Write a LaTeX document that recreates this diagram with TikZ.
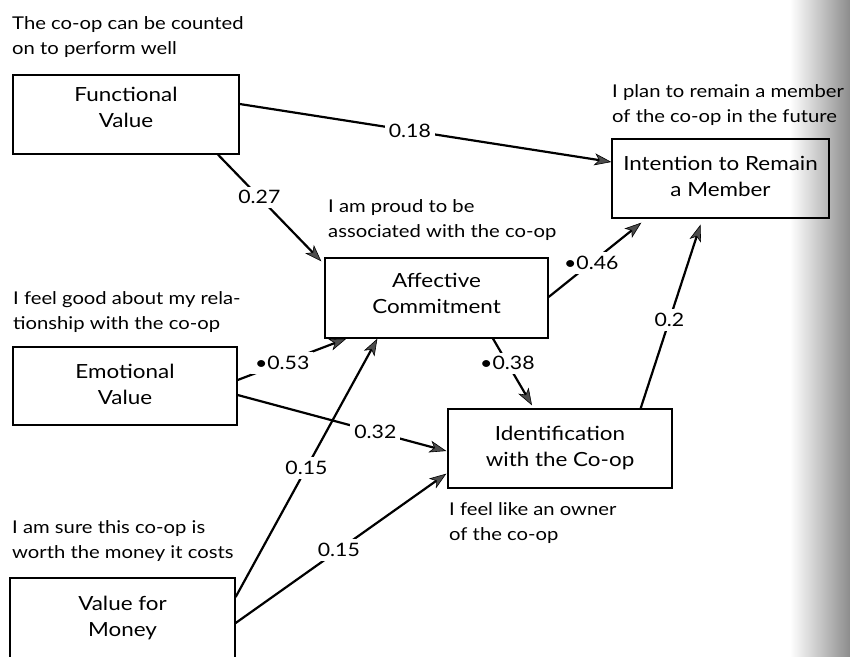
\documentclass[tikz,border=0pt]{standalone}
\usepackage{fontspec}
\setmainfont{Lato}[FakeStretch=1.15]
\usetikzlibrary{arrows.meta,calc}
\newcommand\boxtext[2]{\raisebox{#1}[\height][\depth]{\begin{tabular}{@{}c@{}}#2\end{tabular}}}
\begin{document}
\begin{tikzpicture}[x=1pt,y=-1pt,
  box/.style={draw=black, line width=1.3pt, minimum height=79pt, inner sep=0pt,
    font=\fontsize{19.5}{26}\selectfont},
  anno/.style={anchor=base west, align=left, inner sep=0pt, font=\fontsize{17.6}{25}\selectfont},
  arr/.style={line width=2.2pt, -{Stealth[length=17pt,width=12pt,inset=4.5pt,line width=0.6pt,fill=black!70]}},
  lbl/.style={fill=white, inner sep=4pt, font=\fontsize{18.5}{22}\selectfont}
]
\useasboundingbox (0,0) rectangle (850,656);
\shade[left color=white, right color=black!45] (790,0) rectangle (850,656);

% boxes
\node[box, minimum width=226pt] (FV) at (126,114.5) {\boxtext{5pt}{Functional\\Value}};
\node[box, minimum width=217pt] (IR) at (720.5,178.5) {\boxtext{0pt}{Intention to Remain\\a Member}};
\node[box, minimum width=223pt, minimum height=80pt] (AC) at (436.5,298) {\boxtext{3pt}{Affective\\Commitment}};
\node[box, minimum width=224pt, minimum height=78pt] (EV) at (125,386) {\boxtext{0pt}{Emotional\\Value}};
\node[box, minimum width=224pt] (ID) at (560,448.5) {\boxtext{0pt}{Identification\\with the Co-op}};
\node[box, minimum width=225pt, minimum height=81pt] (VM) at (122.5,618.5) {\boxtext{0pt}{Value for\\Money}};

% annotations (anchor = baseline of last line)
\node[anno] (a1) at (12,54) {The co-op can be counted\\on to perform well};
\node[anno] (a2) at (612,122) {I plan to remain a member\\of the co-op in the future};
\node[anno] (a3) at (328,237) {I am proud to be\\associated with the co-op};
\node[anno] (a4) at (13,329) {I feel good about my rela-\\tionship with the co-op};
\node[anno] (a5) at (449,540) {I feel like an owner\\of the co-op};
\node[anno] (a6) at (12,558) {I am sure this co-op is\\worth the money it costs};

% connectors
\draw[arr] ($(FV.east)+(0,-10.5)$) -- node[lbl,pos=0.458] {0.18} ($(IR.west)+(0,-16.5)$);
\draw[arr] ($(FV.south)+(92,0)$) -- node[lbl,pos=0.4] {0.27} ($(AC.north west)+(-3,4)$);
\draw[arr] ($(EV.east)+(0,-6)$) -- node[lbl,pos=0.41] {•0.53} ($(AC.south west)+(22,0)$);
\draw[arr] ($(EV.east)+(0,9)$) -- node[lbl,pos=0.66] {0.32} ($(ID.west)+(-1,2.5)$);
\draw[arr] ($(VM.east)+(0,-21.5)$) -- node[lbl,pos=0.5] {0.15} ($(AC.south west)+(53,0)$);
\draw[arr] ($(VM.east)+(0,4.5)$) -- node[lbl,pos=0.49] {0.15} ($(ID.south west)+(-1,-15)$);
\draw[arr] ($(AC.east)+(0,-1)$) -- node[lbl,pos=0.46] {•0.46} ($(IR.south west)+(30,4)$);
\draw[arr] ($(AC.south)+(56.5,0)$) -- node[lbl,pos=0.37] {•0.38} ($(ID.north)+(-28,-3)$);
\draw[arr] ($(ID.north east)+(-32,0)$) -- node[lbl,pos=0.48] {0.2} ($(IR.south)+(-20,6)$);
\end{tikzpicture}
\end{document}
